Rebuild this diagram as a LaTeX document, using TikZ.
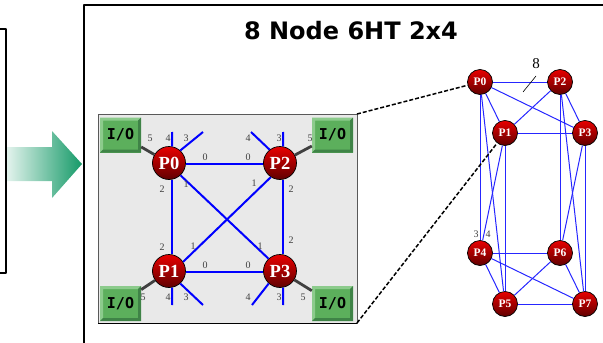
\documentclass[tikz,border=0pt]{standalone}
\usepackage{fontspec}
\setmainfont{Liberation Serif}
\newfontfamily\titlefont{DejaVu Sans}
\newfontfamily\iofont{DejaVu Sans Mono}
\usetikzlibrary{calc}
\definecolor{ioGreen}{HTML}{5CAF5C}
\definecolor{ioLight}{HTML}{8CCB8C}
\definecolor{ioDark}{HTML}{3F8347}
\definecolor{ballTop}{HTML}{E80000}
\definecolor{ballMid}{HTML}{DD0000}
\definecolor{ballBottom}{HTML}{600000}
\definecolor{arrowGreen}{HTML}{159A68}
\definecolor{panelGrey}{HTML}{E9E9E9}
\tikzset{
	iobox/.style={rectangle,minimum width=41pt,minimum height=35pt,inner sep=0pt,fill=ioGreen,
		font=\iofont\bfseries\fontsize{15}{15}\selectfont,
		path picture={
			\coordinate (NW) at (path picture bounding box.north west);
			\coordinate (NE) at (path picture bounding box.north east);
			\coordinate (SW) at (path picture bounding box.south west);
			\coordinate (SE) at (path picture bounding box.south east);
			\fill[ioLight] (NW) -- (NE) -- ([xshift=-3pt,yshift=-3pt]NE) -- ([xshift=3pt,yshift=-3pt]NW) -- ([xshift=3pt,yshift=3pt]SW) -- (SW) -- cycle;
			\fill[ioDark] (SE) -- (SW) -- ([xshift=3pt,yshift=3pt]SW) -- ([xshift=-3pt,yshift=3pt]SE) -- ([xshift=-3pt,yshift=-3pt]NE) -- (NE) -- cycle;
		}},
	ball/.style={circle,draw=black,line width=0.7pt,top color=ballTop,middle color=ballMid,bottom color=ballBottom,
		text=white,inner sep=0pt,font=\bfseries},
	bigball/.style={ball,minimum size=33pt,font=\bfseries\fontsize{18.5}{18.5}\selectfont},
	smallball/.style={ball,minimum size=25pt,font=\bfseries\fontsize{11.5}{11.5}\selectfont},
	link/.style={blue,line width=2pt},
	thinlink/.style={blue!85!white,line width=1pt},
	ioline/.style={black!75,line width=2.8pt},
	portnum/.style={inner sep=0pt,text=black!75,font=\fontsize{10}{10}\selectfont},
	zoomline/.style={black,line width=1.5pt,dash pattern=on 4pt off 2pt}
}
\begin{document}
\begin{tikzpicture}[x=1pt,y=-1pt,line join=round,>=stealth]
	\useasboundingbox (0,0) rectangle (603,343);
	% left frame and arrow
	\draw[line width=1.4pt] (0,29) -- (6,29) -- (6,273) -- (0,273);
	\shade[left color=arrowGreen!12!white,right color=arrowGreen] (7,147) -- (52,147) -- (52,131) -- (82,164) -- (52,198) -- (52,181) -- (7,181) -- cycle;
	\draw[line width=1.4pt] (84,343) -- (84,5) -- (603,5);
	\node[font=\titlefont\bfseries\fontsize{24}{24}\selectfont] (title) at (351,31) {8 Node 6HT 2x4};
	% grey panel
	\draw[fill=panelGrey,draw=black!65,line width=1pt] (98,114) rectangle (357,323);
	\draw[line width=1pt] (98,323) -- (357,323);
	\node[iobox] (io0) at (120.5,135) {I/O};
	\node[iobox] (io2) at (332.5,135) {I/O};
	\node[iobox] (io1) at (120.5,303.5) {I/O};
	\node[iobox] (io3) at (332.5,303.5) {I/O};
	\node[bigball] (p0) at (169,163) {P0};
	\node[bigball] (p2) at (280,163) {P2};
	\node[bigball] (p1) at (169,271) {P1};
	\node[bigball] (p3) at (280,271) {P3};
	\coordinate (p0a) at (172,132);
	\coordinate (p0b) at (203,132);
	\coordinate (p2a) at (283,132);
	\coordinate (p2b) at (251,132);
	\coordinate (p1a) at (172,305);
	\coordinate (p1b) at (203,305);
	\coordinate (p3a) at (283,305);
	\coordinate (p3b) at (252,305);
	\draw[ioline] (io0) -- (p0);
	\draw[ioline] (io2) -- (p2);
	\draw[ioline] (io1) -- (p1);
	\draw[ioline] (io3) -- (p3);
	\draw[link] (p0.-5) -- (p2.185);
	\draw[link] (p1.-3) -- (p3.183);
	\draw[link] (p0.-79) -- (p1.79);
	\draw[link] (p2.-79) -- (p3.79);
	\draw[link] (p0.-47) -- (p3.133);
	\draw[link] (p1.33) -- (p2.237);
	\draw[link] (p0.79) -- (p0a);
	\draw[link] (p0.48) -- (p0b);
	\draw[link] (p2.79) -- (p2a);
	\draw[link] (p2.128) -- (p2b);
	\draw[link] (p1.-79) -- (p1a);
	\draw[link] (p1.-48) -- (p1b);
	\draw[link] (p3.-79) -- (p3a);
	\draw[link] (p3.-132) -- (p3b);
	\foreach \x/\y/\t [count=\i] in {150/138/5,168/138/4,186/138/3,205/157/0,162/189/2,186/184/1,
		248/138/4,279/138/3,310/138/5,248/157/0,254/183/1,291/189/2,
		162/247/2,193/246/1,205/265/0,143/297/5,168/297/4,186/297/3,
		260/246/1,291/240/2,248/265/0,248/297/4,279/297/3,303/297/5}
		\node[portnum] (n\i) at (\x,\y) {\t};
	% 3D view
	\node[smallball] (r0) at (480,82) {P0};
	\node[smallball] (r2) at (560,82) {P2};
	\node[smallball] (r1) at (505,133) {P1};
	\node[smallball] (r3) at (585,133) {P3};
	\node[smallball] (r4) at (480,253) {P4};
	\node[smallball] (r6) at (560,253) {P6};
	\node[smallball] (r5) at (505,304) {P5};
	\node[smallball] (r7) at (585,304) {P7};
	\foreach \a/\b in {r0/r2,r1/r3,r0/r1,r2/r3,r1/r2,r0/r3,r4/r6,r5/r7,r4/r5,r6/r7,r5/r6,r4/r7,
		r0/r4,r1/r5,r2/r6,r3/r7,r0/r5,r1/r4,r2/r7,r3/r6}
		\draw[thinlink] (\a) -- (\b);
	\node[font=\fontsize{15}{15}\selectfont] (eight) at (536,64) {8};
	\coordinate (tick0) at (523,92);
	\coordinate (tick1) at (536,76);
	\draw[line width=0.6pt] (tick0) -- (tick1);
	\node[portnum] (m3) at (476,234) {3};
	\node[portnum] (m4) at (488,234) {4};
	\coordinate (corner0) at (357,114);
	\coordinate (corner1) at (357,323);
	\draw[zoomline] (corner0) -- (r0);
	\draw[zoomline] (corner1) -- (r1);
\end{tikzpicture}
\end{document}
